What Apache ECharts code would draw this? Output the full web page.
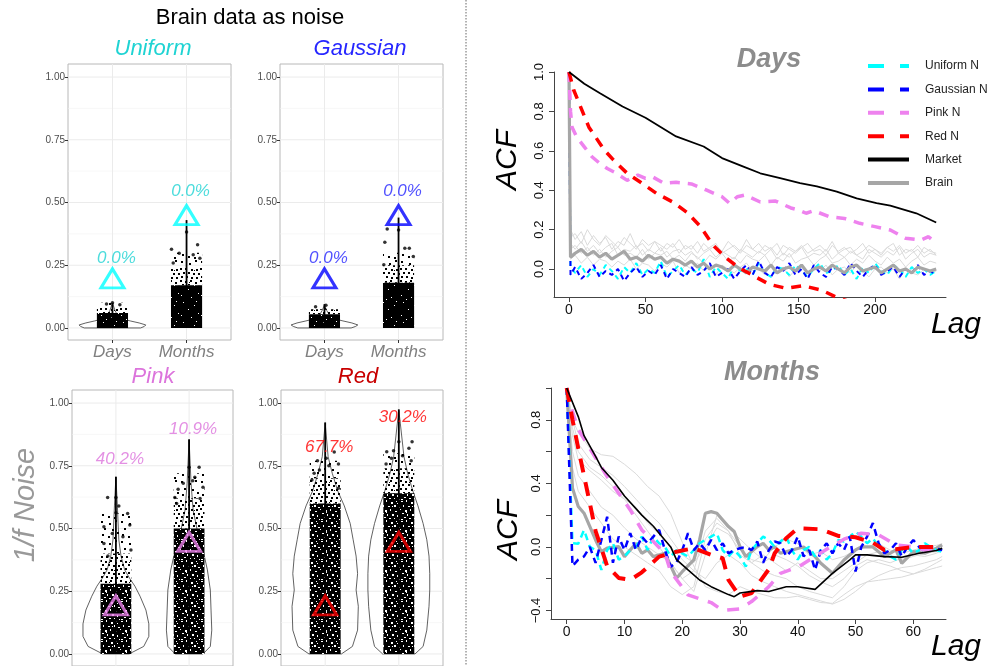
<!DOCTYPE html>
<html><head><meta charset="utf-8">
<script src="https://cdn.jsdelivr.net/npm/echarts@6/dist/echarts.min.js"></script>
<style>html,body{margin:0;padding:0;background:#fff}#c{width:990px;height:666px}</style>
</head><body><div id="c"></div>
<script>
// ---------------- LEFT: violin / jitter panels ----------------
const groups = ['Days', 'Months'];
const groupPos = [1, 2];
const leftTicks = [0, 0.25, 0.5, 0.75, 1];
const leftMinorTicks = [0.125, 0.375, 0.625, 0.875];

const uniformTriangle = [0.198, 0.45];
const gaussianTriangle = [0.198, 0.45];
const pinkTriangle = [0.194, 0.447];
const redTriangle = [0.194, 0.447];

const uniformPct = ['0.0%', '0.0%'];
const gaussianPct = ['0.0%', '0.0%'];
const pinkPct = ['40.2%', '10.9%'];
const redPct = ['67.7%', '30.2%'];
const uniformPctY = [0.278, 0.546];
const gaussianPctY = [0.278, 0.546];
const pinkPctY = [0.777, 0.894];
const redPctY = [0.824, 0.943];

// violin half-width profiles [y, half-width in category units]
const uniformViolinDays = [[0,0.38],[0.006,0.43],[0.012,0.45],[0.02,0.36],[0.028,0.24],[0.036,0.135],[0.05,0.068],[0.07,0.034],[0.1,0]];
const gaussianViolinDays = [[0,0.36],[0.006,0.42],[0.012,0.45],[0.02,0.37],[0.028,0.25],[0.036,0.14],[0.05,0.07],[0.07,0.03],[0.092,0]];
const pinkViolinDays = [[0,0.18],[0.03,0.38],[0.07,0.45],[0.12,0.45],[0.175,0.41],[0.23,0.33],[0.27,0.26],[0.30,0.19],[0.335,0.12],[0.39,0.07],[0.455,0.04],[0.59,0.02],[0.706,0]];
const pinkViolinMonths = [[0,0.19],[0.03,0.29],[0.095,0.31],[0.175,0.30],[0.255,0.29],[0.335,0.25],[0.415,0.19],[0.495,0.11],[0.574,0.055],[0.68,0.027],[0.853,0]];
const redViolinDays = [[0,0.22],[0.03,0.37],[0.095,0.44],[0.19,0.45],[0.255,0.42],[0.32,0.44],[0.39,0.42],[0.455,0.38],[0.52,0.34],[0.59,0.26],[0.65,0.17],[0.72,0.096],[0.786,0.04],[0.92,0]];
const redViolinMonths = [[0,0.22],[0.03,0.33],[0.095,0.38],[0.19,0.41],[0.255,0.42],[0.32,0.42],[0.39,0.41],[0.455,0.38],[0.52,0.33],[0.59,0.26],[0.65,0.19],[0.72,0.12],[0.786,0.07],[0.92,0.02],[0.97,0]];

// jitter clouds: [dense top, medium top, sparse top] per group; centre stack line top
const uniformCloud = [[0.06, 0.08, 0.1], [0.17, 0.24, 0.3]];
const gaussianCloud = [[0.055, 0.075, 0.09], [0.18, 0.25, 0.3]];
const pinkCloud = [[0.28, 0.4, 0.56], [0.5, 0.62, 0.72]];
const redCloud = [[0.6, 0.7, 0.77], [0.64, 0.74, 0.8]];
const uniformLine = [0.1, 0.43];
const gaussianLine = [0.095, 0.44];
const pinkLine = [0.706, 0.856];
const redLine = [0.923, 0.975];

// isolated jitter points [x, y]
const uniformPoints = [[2,0.382],[2.149,0.332],[1.797,0.314],[1.901,0.298],[2.09,0.292],[1.82,0.259],[2.18,0.278],[1,0.1],[0.92,0.095],[1.1,0.092]];
const gaussianPoints = [[1.847,0.394],[2,0.39],[1.815,0.342],[2.085,0.318],[2.145,0.318],[1.801,0.252],[2.199,0.285],[1.02,0.09],[0.88,0.085]];
const pinkPoints = [[0.887,0.624],[1,0.624],[1,0.563],[1.16,0.56],[0.836,0.507],[1.19,0.514],[1.096,0.467],[0.836,0.44],[1.205,0.414],[0.891,0.39],[1.04,0.59],[0.95,0.48],
  [2.137,0.744],[2,0.744],[2.078,0.704],[2.19,0.664],[1.85,0.656],[1.805,0.624],[2.05,0.69],[1.92,0.68],[1.83,0.6],[2.15,0.62]];
const redPoints = [[0.895,0.77],[1.18,0.757],[1.123,0.805],[1.014,0.78],[0.82,0.693],[1.18,0.66],[0.922,0.733],[1.05,0.75],[0.85,0.72],
  [1.836,0.806],[2.18,0.846],[1.928,0.81],[2,0.846],[2.137,0.82],[2.168,0.77],[1.827,0.757],[2.05,0.79],[1.9,0.78]];

// ---------------- RIGHT: ACF ----------------
const daysXTicks = [0, 50, 100, 150, 200];
const daysYTicks = [0, 0.2, 0.4, 0.6, 0.8, 1.0];
const monthsXTicks = [0, 10, 20, 30, 40, 50, 60];
const monthsYTicks = [-0.4, -0.2, 0, 0.2, 0.4, 0.6, 0.8, 1.0];
const monthsYLabels = [-0.4, 0, 0.4, 0.8];

const daysNoiseLags = [0, 1].concat(Array.from({length: 60}, (_, i) => 4 * (i + 1)));
const daysUniformACF = [1.0, 0.01,
 -0.02,0.02,-0.04,0.0,-0.03,0.02,-0.01,-0.05,0.01,-0.02,
 0.03,-0.03,0.0,-0.02,0.04,-0.04,-0.01,0.02,-0.03,0.0,
 -0.02,0.05,-0.04,0.01,-0.02,-0.05,0.02,-0.01,0.0,-0.03,
 0.03,-0.02,-0.04,0.01,0.0,-0.03,0.02,-0.01,-0.04,0.0,
 0.03,-0.02,-0.01,0.02,-0.03,0.0,-0.05,0.01,-0.02,0.03,
 -0.01,-0.03,0.02,0.0,-0.04,0.01,-0.02,0.0,-0.03,-0.01];
const daysGaussianACF = [1.0, -0.03,
 0.01,-0.05,-0.02,0.02,-0.04,-0.01,-0.03,0.0,-0.06,-0.02,
 0.01,-0.04,-0.01,-0.03,0.02,-0.05,0.0,-0.02,-0.04,0.01,
 -0.03,-0.01,0.03,-0.04,-0.02,0.0,-0.05,-0.01,0.02,-0.03,
 0.04,-0.02,-0.04,0.01,-0.01,0.03,-0.03,0.0,-0.05,0.02,
 -0.02,-0.04,0.01,0.0,-0.03,0.03,-0.01,-0.04,0.0,0.02,
 -0.03,-0.01,0.01,-0.04,0.0,-0.02,0.02,-0.03,-0.01,-0.03];
const daysBrainACF = [1.0, 0.06,
 0.08,0.1,0.07,0.09,0.06,0.08,0.05,0.07,0.09,0.05,
 0.06,0.04,0.07,0.05,0.06,0.03,0.05,0.04,0.02,0.04,
 0.01,0.03,0.0,0.02,0.01,-0.01,0.02,0.0,-0.02,0.01,
 0.0,-0.01,0.02,-0.02,0.0,0.01,-0.01,0.02,-0.02,0.0,
 0.01,-0.01,0.02,0.0,-0.02,0.01,0.02,-0.01,0.0,0.01,
 -0.02,0.0,0.02,-0.01,0.0,-0.02,0.01,0.0,-0.01,0.0];
const daysSubject1 = [1.0, 0.16,
 0.18,0.13,0.2,0.15,0.12,0.17,0.14,0.11,0.16,0.13,
 0.1,0.15,0.12,0.14,0.09,0.13,0.11,0.15,0.1,0.12,
 0.08,0.13,0.1,0.12,0.09,0.14,0.11,0.08,0.12,0.1,
 0.13,0.09,0.11,0.07,0.12,0.1,0.08,0.11,0.13,0.09,
 0.1,0.07,0.12,0.09,0.11,0.08,0.1,0.13,0.08,0.1,
 0.07,0.11,0.09,0.12,0.08,0.1,0.06,0.11,0.09,0.08];
const daysSubject2 = [1.0, 0.1,
 0.12,0.08,0.11,0.07,0.1,0.06,0.09,0.11,0.07,0.08,
 0.06,0.1,0.05,0.08,0.07,0.09,0.05,0.07,0.04,0.08,
 0.06,0.03,0.07,0.05,0.08,0.04,0.06,0.03,0.07,0.05,
 0.04,0.07,0.02,0.06,0.04,0.08,0.03,0.05,0.06,0.02,
 0.05,0.07,0.03,0.04,0.06,0.02,0.05,0.03,0.07,0.04,
 0.02,0.06,0.03,0.05,0.01,0.04,0.06,0.02,0.04,0.03];
const daysSubject3 = [1.0, 0.2,
 0.15,0.19,0.12,0.17,0.13,0.16,0.1,0.14,0.12,0.18,
 0.11,0.13,0.09,0.14,0.12,0.1,0.13,0.08,0.12,0.1,
 0.14,0.09,0.11,0.13,0.08,0.1,0.12,0.09,0.15,0.1,
 0.08,0.12,0.1,0.13,0.07,0.11,0.09,0.12,0.08,0.1,
 0.12,0.09,0.14,0.08,0.1,0.11,0.07,0.09,0.12,0.1,
 0.08,0.11,0.13,0.07,0.1,0.09,0.12,0.08,0.1,0.07];
const daysSubject4 = [1.0, 0.05,
 0.07,0.03,0.06,0.02,0.05,0.04,0.01,0.04,0.02,0.05,
 0.0,0.03,0.02,-0.01,0.03,0.01,0.04,-0.02,0.02,0.0,
 0.03,-0.01,0.01,-0.03,0.02,0.0,-0.02,0.01,0.03,-0.01,
 0.0,-0.03,0.02,-0.01,0.01,-0.04,0.0,0.02,-0.02,0.01,
 -0.01,0.02,-0.03,0.0,0.01,-0.02,0.02,-0.01,-0.04,0.0,
 0.01,-0.02,0.0,-0.05,0.01,-0.02,-0.03,0.0,-0.02,-0.01];
const daysSubject5 = [1.0, 0.13,
 0.1,0.14,0.09,0.12,0.08,0.11,0.13,0.07,0.1,0.09,
 0.12,0.07,0.1,0.08,0.11,0.06,0.09,0.1,0.07,0.09,
 0.05,0.08,0.1,0.06,0.09,0.07,0.05,0.1,0.08,0.06,
 0.09,0.07,0.1,0.05,0.08,0.06,0.09,0.11,0.06,0.08,
 0.07,0.1,0.05,0.08,0.06,0.09,0.07,0.05,0.1,0.08,
 0.06,0.09,0.07,0.11,0.05,0.08,0.1,0.06,0.08,0.07];

const daysPinkLag = [0,1,2,5,10,15,20,25,30,38,45,50,55,62,70,80,90,100,105,110,115,125,135,145,150,155,160,170,180,190,200,210,220,230,235,240];
const daysPinkACF = [1.0,0.80,0.72,0.67,0.62,0.57,0.537,0.51,0.49,0.45,0.477,0.46,0.466,0.435,0.44,0.432,0.40,0.367,0.333,0.367,0.376,0.34,0.345,0.31,0.30,0.283,0.296,0.266,0.257,0.232,0.215,0.198,0.156,0.147,0.164,0.13];
const daysRedLag = [0,3,13,23,29,38,47,57,68,77,86,94,103,111,121,131,142,153,165,174,185,200,220,240];
const daysRedACF = [1.0,0.91,0.72,0.605,0.554,0.486,0.439,0.385,0.339,0.288,0.215,0.122,0.054,0.007,-0.036,-0.078,-0.098,-0.085,-0.107,-0.14,-0.17,-0.2,-0.23,-0.25];
const daysMarketLag = [0,10,20,35,50,70,88,100,114,125,138,151,162,175,188,201,210,227,240];
const daysMarketACF = [1.0,0.94,0.893,0.825,0.768,0.673,0.622,0.563,0.52,0.486,0.461,0.436,0.419,0.393,0.359,0.334,0.322,0.283,0.236];

const monthsLags = Array.from({length: 66}, (_, i) => i);
const monthsUniformACF = [1.0,0.023,0.02,0.107,0.0,-0.02,-0.145,-0.02,0.023,-0.08,-0.06,-0.02,0.0,0.065,-0.02,0.065,0.023,0.0,-0.06,-0.02,-0.04,-0.06,-0.02,0.023,0.044,0.065,0.086,-0.02,-0.06,-0.02,-0.06,-0.124,-0.02,0.023,0.065,0.044,0.0,0.034,0.065,-0.02,-0.08,-0.02,0.0,-0.06,-0.02,-0.08,-0.04,0.044,0.034,0.065,0.097,0.065,0.023,0.055,0.0,-0.02,-0.06,-0.08,-0.02,0.0,-0.04,-0.02,0.023,0.0,-0.02,-0.03];
const monthsGaussianACF = [1.0,-0.12,-0.08,-0.06,0.0,-0.1,0.044,0.19,-0.1,0.065,-0.02,0.086,-0.02,0.065,0.023,0.065,0.107,-0.02,-0.124,-0.1,-0.02,0.086,-0.02,0.023,-0.02,0.044,-0.02,0.023,-0.04,-0.02,-0.008,0.0,-0.02,0.034,-0.1,-0.02,0.034,0.023,-0.06,-0.02,0.065,-0.06,-0.02,-0.145,-0.02,0.023,-0.04,0.023,-0.02,0.065,-0.155,0.0,0.065,0.15,0.023,-0.04,-0.02,0.023,-0.06,0.0,0.044,0.0,-0.03,0.0,-0.01,-0.02];
const monthsBrainLag = [0,1,2,3,5,6,7,9,10,12,13,14,15,17,19,20,22,23,24,25,26,28,29,30,31,33,34,35,36,37,39,41,43,44,46,48,50,51,53,55,57,58,60,62,64,65];
const monthsBrainACF = [1.0,0.37,0.254,0.212,0.044,-0.03,-0.008,0.002,-0.061,0.023,-0.04,-0.019,-0.061,-0.04,-0.197,-0.156,-0.082,0.044,0.212,0.222,0.212,0.128,0.097,0.002,-0.061,0.002,0.023,-0.019,0.0,-0.04,-0.019,0.0,-0.061,-0.103,-0.166,-0.082,-0.019,0.0,0.0,-0.061,-0.019,-0.103,-0.03,-0.04,-0.008,0.013];
const monthsMarketLag = [0,2,3,5,6,8,10,13,15,16,18,19,21,23,25,28,29,30,33,35,38,40,43,46,49,50,52,55,58,61,64,65];
const monthsMarketACF = [1.0,0.82,0.70,0.57,0.50,0.42,0.32,0.20,0.13,0.086,0.0,-0.08,-0.145,-0.208,-0.25,-0.30,-0.313,-0.29,-0.275,-0.28,-0.251,-0.251,-0.267,-0.166,-0.082,-0.05,-0.05,-0.061,-0.065,-0.04,-0.023,-0.008];
const monthsRedLag = [0,1,2,4,5,7,9,11,13,16,19,22,25,27,28,30,32,35,36,38,40,44,47,50,53,55,57,60,62,64];
const monthsRedACF = [1.0,0.80,0.62,0.275,0.1,-0.12,-0.195,-0.208,-0.16,-0.061,-0.03,-0.008,-0.05,-0.071,-0.208,-0.313,-0.29,-0.14,-0.04,0.055,0.118,0.111,0.069,0.061,0.027,-0.019,-0.015,0.0,0.0,0.0];
const monthsPinkLag = [0,1,2,4,7,11,13,17,18,21,25,27,30,32,35,37,40,42,45,48,51,54,57,60,62,65];
const monthsPinkACF = [1.0,0.85,0.74,0.62,0.443,0.233,0.107,-0.04,-0.156,-0.302,-0.35,-0.40,-0.39,-0.344,-0.25,-0.166,-0.128,-0.082,-0.015,0.049,0.086,0.076,0.013,0.0,-0.019,-0.015];
const monthsSubjectLag = [0,1,2,4,6,8,10,12,14,16,18,20,22,24,26,28,30,32,34,36,38,40,42,44,46,48,50,52,54,56,58,60,62,64,65];
const monthsSubject1 = [1.0,0.8,0.72,0.62,0.58,0.57,0.52,0.46,0.38,0.32,0.21,0.03,-0.12,-0.25,-0.28,-0.3,-0.25,-0.28,-0.3,-0.32,-0.32,-0.31,-0.33,-0.35,-0.355,-0.3,-0.25,-0.22,-0.21,-0.2,-0.19,-0.17,-0.15,-0.13,-0.12];
const monthsSubject2 = [1.0,0.7,0.55,0.48,0.42,0.35,0.3,0.2,0.1,0.0,-0.1,-0.2,-0.15,0.1,0.18,0.1,0.0,-0.1,-0.15,-0.18,-0.2,-0.25,-0.28,-0.3,-0.32,-0.25,-0.15,-0.1,-0.08,-0.1,-0.07,-0.05,-0.06,-0.04,-0.02];
const monthsSubject3 = [1.0,0.5,0.35,0.25,0.15,0.05,0.0,-0.05,-0.1,-0.15,-0.25,-0.3,-0.25,0.05,0.15,0.1,-0.05,-0.1,-0.05,-0.1,-0.15,-0.1,-0.15,-0.2,-0.2,-0.15,-0.1,-0.05,-0.03,-0.05,-0.08,-0.06,-0.04,-0.03,0.0];
const monthsSubject4 = [1.0,0.8,0.65,0.55,0.5,0.45,0.38,0.3,0.22,0.15,0.05,-0.05,-0.1,0.0,0.12,0.08,-0.02,-0.08,-0.1,-0.05,-0.08,-0.12,-0.18,-0.22,-0.25,-0.2,-0.12,-0.08,-0.1,-0.12,-0.15,-0.17,-0.14,-0.1,-0.08];
const monthsSubject5 = [1.0,0.6,0.45,0.35,0.25,0.2,0.12,0.05,0.0,-0.05,-0.1,-0.2,-0.28,-0.05,0.2,0.12,0.05,-0.02,-0.08,0.0,0.05,0.02,-0.05,-0.03,-0.08,-0.06,-0.02,0.0,0.02,-0.02,-0.04,-0.02,0.0,0.01,0.02];
const monthsSubject6 = [1.0,0.75,0.6,0.5,0.45,0.38,0.3,0.25,0.15,0.08,0.0,-0.08,-0.15,-0.2,-0.1,-0.05,-0.1,-0.18,-0.22,-0.25,-0.28,-0.3,-0.32,-0.34,-0.36,-0.33,-0.28,-0.22,-0.18,-0.15,-0.13,-0.12,-0.1,-0.08,-0.06];

// ---------------- build ----------------
const FONT = 'Liberation Sans, Arial, Helvetica, sans-serif';
const zip = (xs, ys) => ys.slice(0, xs.length).map((y, i) => [xs[i], y]);

// texture tiles for the jittered point clouds (pure styling)
function texture(bg, dotColor, size, dots) {
  const c = document.createElement('canvas');
  c.width = size; c.height = size;
  const g = c.getContext('2d');
  if (bg) { g.fillStyle = bg; g.fillRect(0, 0, size, size); }
  g.fillStyle = dotColor;
  dots.forEach(([x, y, w, h]) => g.fillRect(x, y, w, h));
  return {image: c, repeat: 'repeat'};
}
const solidTex = texture('#000', '#fff', 20, [[3,2,1,1],[14,5,1,1],[8,9,1,1],[18,13,1,1],[1,15,1,1],[11,17,1,1],[6,19,1,1],[16,1,1,1]]);
const denseTex = texture('#000', '#fff', 20, [[1,1,2,1],[6,0,1,2],[11,2,2,2],[16,1,1,1],[3,5,1,2],[8,6,2,1],[14,5,2,2],[18,7,2,1],[0,9,1,1],[5,10,2,2],[10,9,1,2],[15,11,2,1],[2,13,2,1],[7,14,1,2],[12,14,2,2],[17,15,1,2],[4,17,2,1],[9,18,2,1],[14,18,1,1],[19,19,1,1],[1,19,2,1],[12,6,1,1],[17,3,1,1],[6,12,1,1]]);
const midTex = texture(null, '#000', 20, [[0,0,2,2],[5,1,2,2],[10,0,2,2],[15,2,2,2],[2,4,2,2],[8,4,2,2],[13,5,2,2],[18,5,2,2],[0,8,2,2],[5,8,2,2],[11,9,2,2],[16,9,2,2],[3,12,2,2],[8,12,2,2],[13,13,2,2],[18,13,2,2],[1,16,2,2],[6,16,2,2],[11,17,2,2],[16,17,2,2],[9,2,1,1],[14,10,1,1]]);
const sparseTex = texture(null, '#000', 20, [[1,1,2,2],[9,3,2,2],[15,0,2,2],[4,8,2,2],[12,9,2,2],[17,12,2,2],[2,14,2,2],[8,16,2,2],[14,17,2,2]]);

const panels = [
  {title:'Uniform', tri:uniformTriangle, pct:uniformPct, pctY:uniformPctY, violins:[uniformViolinDays,null], cloud:uniformCloud, line:uniformLine, pts:uniformPoints, triColor:'#00ffff', txtColor:'#1fd3d3', dense:solidTex},
  {title:'Gaussian', tri:gaussianTriangle, pct:gaussianPct, pctY:gaussianPctY, violins:[gaussianViolinDays,null], cloud:gaussianCloud, line:gaussianLine, pts:gaussianPoints, triColor:'#0000ff', txtColor:'#2626ff', dense:solidTex},
  {title:'Pink', tri:pinkTriangle, pct:pinkPct, pctY:pinkPctY, violins:[pinkViolinDays,pinkViolinMonths], cloud:pinkCloud, line:pinkLine, pts:pinkPoints, triColor:'#ee82ee', txtColor:'#dc74dc', dense:denseTex},
  {title:'Red', tri:redTriangle, pct:redPct, pctY:redPctY, violins:[redViolinDays,redViolinMonths], cloud:redCloud, line:redLine, pts:redPoints, triColor:'#ff0000', txtColor:'#ff0000', dense:denseTex}
];
const panelBoxes = [
  {left:68, top:64, width:163, height:276},
  {left:280, top:64, width:163, height:276},
  {left:72, top:390, width:161, height:276},
  {left:281, top:390, width:162, height:276}
];
const cloudHalfWidth = 0.21;
// grid-line items: [value, kind] kind 0 = major horizontal, 1 = minor horizontal, 2 = vertical
const panelGridItems = [].concat(leftTicks.map(v => [v, 0]), leftMinorTicks.map(v => [v, 1]), groupPos.map(v => [v, 2]));

const grids = [], xAxes = [], yAxes = [], series = [];
panels.forEach((P, i) => {
  grids.push(Object.assign({show:true, borderColor:'#b8b8b8', borderWidth:1, backgroundColor:'#fff', containLabel:false, outerBoundsMode:'none'}, panelBoxes[i]));
  xAxes.push({gridIndex:i, type:'value', min:0.4, max:2.6,
    axisLine:{show:false, onZero:false}, splitLine:{show:false},
    axisTick:{show:i < 2, customValues:groupPos, length:3, lineStyle:{color:'#333'}},
    axisLabel:{show:i < 2, customValues:groupPos, formatter:v => groups[groupPos.indexOf(Number(v))],
      fontFamily:FONT, fontStyle:'italic', fontSize:17, color:'#808080', margin:4}});
  yAxes.push({gridIndex:i, type:'value', min:-0.048, max:1.052,
    axisLine:{show:false, onZero:false}, splitLine:{show:false},
    axisTick:{show:true, customValues:leftTicks, length:3, lineStyle:{color:'#333'}},
    axisLabel:{customValues:leftTicks, formatter:v => Number(v).toFixed(2), fontFamily:FONT, fontSize:10, color:'#4d4d4d', margin:3}});
  // panel grid lines (drawn beneath everything else)
  series.push({type:'custom', xAxisIndex:i, yAxisIndex:i, silent:true, z:1, data:panelGridItems,
    renderItem:(params, api) => {
      const [v, kind] = panelGridItems[params.dataIndex];
      const a = kind === 2 ? api.coord([v, -0.048]) : api.coord([0.4, v]);
      const b = kind === 2 ? api.coord([v, 1.052]) : api.coord([2.6, v]);
      return {type:'line', shape:{x1:a[0], y1:a[1], x2:b[0], y2:b[1]},
        style:{stroke:kind === 1 ? '#f3f3f3' : '#ebebeb', lineWidth:kind === 1 ? 0.6 : 1}};
    }});
  series.push({type:'custom', xAxisIndex:i, yAxisIndex:i, silent:true, z:2,
    data:groupPos.map((c, g) => [c, g]),
    renderItem:(params, api) => {
      const g = params.dataIndex, c = groupPos[g], ch = [];
      const vio = P.violins[g];
      if (vio) {
        const right = vio.map(([y, w]) => api.coord([c + w, y]));
        const left = vio.slice().reverse().map(([y, w]) => api.coord([c - w, y]));
        ch.push({type:'polygon', shape:{points:right.concat(left)}, style:{fill:'none', stroke:'#3a3a3a', lineWidth:0.8}});
      }
      const [dTop, mTop, sTop] = P.cloud[g];
      const box = (y0, y1, fill) => {
        const a = api.coord([c - cloudHalfWidth, y1]), b = api.coord([c + cloudHalfWidth, y0]);
        return {type:'rect', shape:{x:a[0], y:a[1], width:b[0]-a[0], height:b[1]-a[1]}, style:{fill}};
      };
      ch.push(box(mTop, sTop, sparseTex));
      ch.push(box(dTop, mTop, midTex));
      ch.push(box(0, dTop, P.dense));
      const l0 = api.coord([c, 0]), l1 = api.coord([c, P.line[g]]);
      ch.push({type:'line', shape:{x1:l0[0], y1:l0[1], x2:l1[0], y2:l1[1]}, style:{stroke:'#000', lineWidth:1.8}});
      return {type:'group', children:ch};
    }});
  series.push({type:'scatter', xAxisIndex:i, yAxisIndex:i, silent:true, z:3, data:P.pts, symbolSize:3.5, itemStyle:{color:'#000'}});
  series.push({type:'scatter', xAxisIndex:i, yAxisIndex:i, silent:true, z:4,
    data:groupPos.map((c, g) => [c, P.tri[g]]), symbol:'triangle', symbolSize:[23, 19],
    itemStyle:{color:'rgba(0,0,0,0)', borderColor:P.triColor, borderWidth:3}});
  series.push({type:'scatter', xAxisIndex:i, yAxisIndex:i, silent:true, z:5,
    data:groupPos.map((c, g) => [c, P.pctY[g]]), symbolSize:0, itemStyle:{color:'rgba(0,0,0,0)'},
    label:{show:true, position:'inside', offset:[4, 0], formatter:p => P.pct[p.dataIndex],
      fontFamily:FONT, fontStyle:'italic', fontSize:17, color:P.txtColor}});
});

grids.push({left:554, top:72, width:392, height:225, containLabel:false, outerBoundsMode:'none'});
grids.push({left:551, top:388, width:395, height:231, containLabel:false, outerBoundsMode:'none'});
const axisCol = '#444';
xAxes.push({gridIndex:4, type:'value', min:-9.8, max:246.4,
  axisLine:{show:true, onZero:false, lineStyle:{color:axisCol, width:1}}, splitLine:{show:false},
  axisTick:{customValues:daysXTicks, length:5, lineStyle:{color:axisCol}},
  axisLabel:{customValues:daysXTicks, fontFamily:FONT, fontSize:14, color:'#111', margin:6}});
yAxes.push({gridIndex:4, type:'value', min:-0.142, max:1.0,
  axisLine:{show:true, onZero:false, lineStyle:{color:axisCol, width:1}}, splitLine:{show:false},
  axisTick:{customValues:daysYTicks, length:5, lineStyle:{color:axisCol}},
  axisLabel:{customValues:daysYTicks, rotate:90, formatter:v => Number(v).toFixed(1), fontFamily:FONT, fontSize:13, color:'#111', margin:8}});
xAxes.push({gridIndex:5, type:'value', min:-2.72, max:65.66,
  axisLine:{show:true, onZero:false, lineStyle:{color:axisCol, width:1}}, splitLine:{show:false},
  axisTick:{customValues:monthsXTicks, length:5, lineStyle:{color:axisCol}},
  axisLabel:{customValues:monthsXTicks, fontFamily:FONT, fontSize:14, color:'#111', margin:6}});
yAxes.push({gridIndex:5, type:'value', min:-0.4535, max:1.0,
  axisLine:{show:true, onZero:false, lineStyle:{color:axisCol, width:1}}, splitLine:{show:false},
  axisTick:{customValues:monthsYTicks, length:5, lineStyle:{color:axisCol}},
  axisLabel:{customValues:monthsYLabels, rotate:90, formatter:v => (Number(v) < 0 ? '\u2212' : '') + Math.abs(Number(v)).toFixed(1), fontFamily:FONT, fontSize:13, color:'#111', margin:8}});

function lineS(name, gi, data, color, width, type, z) {
  return {name, type:'line', xAxisIndex:gi, yAxisIndex:gi, data, symbol:'none', silent:true, z,
    lineStyle:{color, width, type}, itemStyle:{color}, emphasis:{disabled:true}};
}
// Days
[daysSubject1, daysSubject2, daysSubject3, daysSubject4, daysSubject5].forEach((s, k) =>
  series.push(lineS('Subject ' + (k + 1), 4, zip(daysNoiseLags, s), '#dadada', 1, 'solid', 2)));
series.push(lineS('Uniform N', 4, zip(daysNoiseLags, daysUniformACF), '#00ffff', 2, [5, 4], 3));
series.push(lineS('Gaussian N', 4, zip(daysNoiseLags, daysGaussianACF), '#0000ff', 2, [5, 4], 3));
series.push(lineS('Brain', 4, zip(daysNoiseLags, daysBrainACF), '#a6a6a6', 3.2, 'solid', 4));
series.push(lineS('Pink N', 4, zip(daysPinkLag, daysPinkACF), '#ee82ee', 3.5, [10, 8], 5));
series.push(lineS('Red N', 4, zip(daysRedLag, daysRedACF), '#ff0000', 3.5, [10, 8], 5));
series.push(lineS('Market', 4, zip(daysMarketLag, daysMarketACF), '#000000', 1.8, 'solid', 6));
// Months
[monthsSubject1, monthsSubject2, monthsSubject3, monthsSubject4, monthsSubject5, monthsSubject6].forEach((s, k) =>
  series.push(lineS('Subject ' + (k + 1), 5, zip(monthsSubjectLag, s), '#dadada', 1, 'solid', 2)));
series.push(lineS('Brain', 5, zip(monthsBrainLag, monthsBrainACF), '#a6a6a6', 3.2, 'solid', 3));
series.push(lineS('Uniform N', 5, zip(monthsLags, monthsUniformACF), '#00ffff', 2.5, [7, 5], 4));
series.push(lineS('Gaussian N', 5, zip(monthsLags, monthsGaussianACF), '#0000ff', 2.5, [7, 5], 4));
series.push(lineS('Pink N', 5, zip(monthsPinkLag, monthsPinkACF), '#ee82ee', 3.5, [12, 10], 5));
series.push(lineS('Red N', 5, zip(monthsRedLag, monthsRedACF), '#ff0000', 4, [14, 10], 5));
series.push(lineS('Market', 5, zip(monthsMarketLag, monthsMarketACF), '#000000', 1.6, 'solid', 6));

const legendDash = [16, 16];
const option = {
  animation:false,
  grid:grids, xAxis:xAxes, yAxis:yAxes, series,
  legend:{orient:'vertical', left:866, top:60, itemWidth:41, itemHeight:14, itemGap:11.4, padding:0,
    selectedMode:false, itemStyle:{opacity:0},
    textStyle:{fontFamily:FONT, fontSize:12, color:'#222', padding:[0, 0, 0, 11]},
    data:[
      {name:'Uniform N', lineStyle:{color:'#00ffff', width:4, type:legendDash}},
      {name:'Gaussian N', lineStyle:{color:'#0000ff', width:4, type:legendDash}},
      {name:'Pink N', lineStyle:{color:'#ee82ee', width:4, type:legendDash}},
      {name:'Red N', lineStyle:{color:'#ff0000', width:4, type:legendDash}},
      {name:'Market', lineStyle:{color:'#000000', width:4, type:'solid'}},
      {name:'Brain', lineStyle:{color:'#a6a6a6', width:4, type:'solid'}}
    ]},
  graphic:[
    {type:'line', silent:true, shape:{x1:466, y1:0, x2:466, y2:666}, style:{stroke:'#666', lineWidth:1, lineDash:[1.5, 1.5]}},
    {type:'text', x:250, y:18, silent:true, style:{text:'Brain data as noise', font:'22px ' + FONT, fill:'#000', textAlign:'center', textVerticalAlign:'middle'}},
    {type:'text', x:153, y:49, silent:true, style:{text:'Uniform', font:'italic 22px ' + FONT, fill:'#1fd3d3', textAlign:'center', textVerticalAlign:'middle'}},
    {type:'text', x:360, y:49, silent:true, style:{text:'Gaussian', font:'italic 22px ' + FONT, fill:'#2626ff', textAlign:'center', textVerticalAlign:'middle'}},
    {type:'text', x:153, y:377, silent:true, style:{text:'Pink', font:'italic 22px ' + FONT, fill:'#dc74dc', textAlign:'center', textVerticalAlign:'middle'}},
    {type:'text', x:358, y:377, silent:true, style:{text:'Red', font:'italic 22px ' + FONT, fill:'#c80000', textAlign:'center', textVerticalAlign:'middle'}},
    {type:'text', x:26, y:505, rotation:Math.PI / 2, silent:true, style:{text:'1/f Noise', font:'italic 29px ' + FONT, fill:'#999999', textAlign:'center', textVerticalAlign:'middle'}},
    {type:'text', x:769, y:60, silent:true, style:{text:'Days', font:'italic bold 27px ' + FONT, fill:'#8c8c8c', textAlign:'center', textVerticalAlign:'middle'}},
    {type:'text', x:772, y:373, silent:true, style:{text:'Months', font:'italic bold 27px ' + FONT, fill:'#8c8c8c', textAlign:'center', textVerticalAlign:'middle'}},
    {type:'text', x:508, y:160, rotation:Math.PI / 2, silent:true, style:{text:'ACF', font:'italic 30px ' + FONT, fill:'#000', textAlign:'center', textVerticalAlign:'middle'}},
    {type:'text', x:509, y:530, rotation:Math.PI / 2, silent:true, style:{text:'ACF', font:'italic 30px ' + FONT, fill:'#000', textAlign:'center', textVerticalAlign:'middle'}},
    {type:'text', x:956, y:325, silent:true, style:{text:'Lag', font:'italic 30px ' + FONT, fill:'#000', textAlign:'center', textVerticalAlign:'middle'}},
    {type:'text', x:956, y:647, silent:true, style:{text:'Lag', font:'italic 30px ' + FONT, fill:'#000', textAlign:'center', textVerticalAlign:'middle'}}
  ]
};
const chart = echarts.init(document.getElementById('c'), null, {renderer:'canvas'});
chart.setOption(option);
</script></body></html>
